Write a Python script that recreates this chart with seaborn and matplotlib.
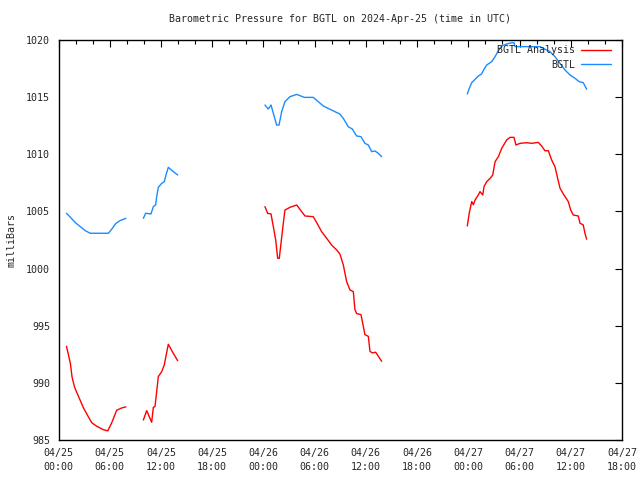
import matplotlib
matplotlib.use("Agg")
import matplotlib.pyplot as plt
import numpy as np
import pandas as pd
import seaborn as sns

# Daten: Stunden ab 04/25 00:00 UTC, Druck in mbar (4 Abschnitte mit Luecken)
analysis_hours = [
    [0.93, 1.12, 1.39, 1.59, 1.89, 2.35, 2.93, 3.52, 3.91, 4.49, 5.26, 5.77, 6.23, 6.81, 7.39, 7.89],
    [9.94, 10.33, 10.91, 11.11, 11.30, 11.50, 11.69, 12.09, 12.39, 12.86, 13.44, 13.96],
    [24.18, 24.50, 24.89, 25.16, 25.44, 25.67, 25.86, 26.06, 26.33, 26.52, 27.11, 27.90, 28.28,
     28.87, 29.84, 30.24, 30.82, 31.41, 31.99, 32.58, 32.96, 33.36, 33.75, 34.14, 34.53, 34.72,
     34.92, 35.43, 35.70, 35.89, 36.29, 36.48, 36.75, 37.15, 37.85],
    [47.88, 48.12, 48.40, 48.59, 48.79, 49.17, 49.37, 49.69, 49.84, 50.15, 50.55, 50.86, 51.13,
     51.52, 51.91, 52.49, 52.89, 53.35, 53.58, 54.06, 54.83, 55.42, 56.19, 56.59, 56.98, 57.37,
     57.76, 58.15, 58.42, 58.74, 59.20, 59.71, 59.99, 60.29, 60.88, 61.08, 61.46, 61.66, 61.86],
]
analysis_mb = [
    [993.2, 992.6, 991.7, 990.5, 989.6, 988.8, 987.8, 987.0, 986.5, 986.2, 985.9, 985.8, 986.5,
     987.6, 987.8, 987.9],
    [986.75, 987.57, 986.55, 987.87, 987.92, 989.23, 990.55, 990.98, 991.57, 993.38, 992.59, 991.94],
    [1005.42, 1004.83, 1004.78, 1003.67, 1002.5, 1000.9, 1000.9, 1002.21, 1003.96, 1005.12,
     1005.36, 1005.56, 1005.18, 1004.6, 1004.54, 1004.02, 1003.23, 1002.65, 1002.06, 1001.63,
     1001.28, 1000.31, 998.85, 998.13, 997.98, 996.41, 996.06, 995.97, 994.95, 994.22, 994.07,
     992.76, 992.62, 992.68, 991.89],
    [1003.73, 1004.9, 1005.86, 1005.58, 1006.0, 1006.44, 1006.73, 1006.44, 1007.17, 1007.6,
     1007.9, 1008.19, 1009.35, 1009.79, 1010.52, 1011.25, 1011.48, 1011.48, 1010.81, 1010.96,
     1011.01, 1010.96, 1011.04, 1010.72, 1010.31, 1010.31, 1009.5, 1008.91, 1008.04, 1007.03,
     1006.44, 1005.86, 1005.13, 1004.69, 1004.6, 1003.97, 1003.82, 1003.09, 1002.57],
]

obs_hours = [
    [0.93, 1.39, 1.97, 2.55, 3.13, 3.71, 5.84, 6.23, 6.73, 7.19, 7.89],
    [9.94, 10.21, 10.83, 11.11, 11.38, 11.50, 11.69, 12.09, 12.39, 12.59, 12.86, 13.44, 13.96],
    [24.18, 24.57, 24.89, 25.16, 25.55, 25.83, 26.14, 26.52, 27.11, 27.90, 28.78, 29.84, 30.43,
     31.02, 31.99, 32.96, 33.36, 33.94, 34.41, 34.92, 35.43, 35.89, 36.29, 36.68, 37.06, 37.46, 37.85],
    [47.88, 48.12, 48.40, 48.79, 49.17, 49.56, 49.84, 50.15, 50.73, 51.13, 51.52, 51.91, 52.49,
     53.08, 53.35, 53.47, 56.40, 56.98, 57.57, 58.15, 58.74, 59.33, 59.91, 60.49, 61.00, 61.46, 61.86],
]
obs_mb = [
    [1004.84, 1004.49, 1004.02, 1003.67, 1003.32, 1003.09, 1003.09, 1003.44, 1003.96, 1004.19, 1004.40],
    [1004.40, 1004.84, 1004.78, 1005.42, 1005.58, 1006.29, 1007.11, 1007.46, 1007.6, 1008.19,
     1008.86, 1008.48, 1008.19],
    [1014.31, 1013.96, 1014.31, 1013.59, 1012.56, 1012.56, 1013.73, 1014.6, 1015.04, 1015.24,
     1014.98, 1014.98, 1014.6, 1014.22, 1013.87, 1013.52, 1013.14, 1012.41, 1012.21, 1011.6,
     1011.54, 1010.96, 1010.81, 1010.23, 1010.29, 1010.08, 1009.79],
    [1015.28, 1015.78, 1016.27, 1016.56, 1016.85, 1017.03, 1017.44, 1017.81, 1018.1, 1018.54,
     1019.06, 1019.48, 1019.65, 1019.76, 1019.76, 1019.42, 1019.42, 1019.19, 1018.98, 1018.54,
     1017.96, 1017.37, 1016.94, 1016.65, 1016.35, 1016.27, 1015.69],
]

tick_hours = list(range(0, 67, 6))
tick_labels = ["04/25\n00:00", "04/25\n06:00", "04/25\n12:00", "04/25\n18:00",
               "04/26\n00:00", "04/26\n06:00", "04/26\n12:00", "04/26\n18:00",
               "04/27\n00:00", "04/27\n06:00", "04/27\n12:00", "04/27\n18:00"]

red = "#ff0000"
blue = "#1a8cff"

# Tabelle fuer seaborn
rows = []
for name, hrs, vals in [("BGTL Analysis", analysis_hours, analysis_mb), ("BGTL", obs_hours, obs_mb)]:
    for seg, (h, v) in enumerate(zip(hrs, vals)):
        for hh, vv in zip(h, v):
            rows.append({"hour": hh, "mb": vv, "series": name, "seg": seg})
df = pd.DataFrame(rows)

sns.set_style("white")
plt.rcParams["font.family"] = ["DejaVu Sans Mono"]
fs = 7.2

fig = plt.figure(figsize=(6.4, 4.8), dpi=100)
ax = fig.add_axes([58.5 / 640, 40 / 480, 563.5 / 640, 400 / 480])

sns.lineplot(data=df, x="hour", y="mb", hue="series", units="seg", estimator=None,
             palette={"BGTL Analysis": red, "BGTL": blue}, linewidth=1.0, ax=ax,
             legend=False, sort=False)

ax.set_xlim(0, 66)
ax.set_ylim(985, 1020)
ax.set_xticks(tick_hours)
ax.set_xticklabels(tick_labels, linespacing=1.4)
ax.set_xticks(np.arange(0, 67, 2), minor=True)
ax.set_yticks(np.arange(985, 1021, 5))
ax.tick_params(which="both", direction="in", top=True, right=True, labelsize=fs, color="black")
ax.tick_params(which="major", length=5, width=0.8)
ax.tick_params(which="minor", length=3, width=0.8)
ax.tick_params(axis="x", pad=6)
ax.tick_params(axis="y", pad=6)
for s in ax.spines.values():
    s.set_color("black")
    s.set_linewidth(1.0)

ax.set_xlabel("")
ax.set_ylabel("milliBars", fontsize=fs)
ax.yaxis.set_label_coords(-0.075, 0.5)
fig.text(340 / 640, 1 - 19 / 480, "Barometric Pressure for BGTL on 2024-Apr-25 (time in UTC)",
         fontsize=fs, ha="center", va="center")

handles = [plt.Line2D([], [], color=red, lw=1.0), plt.Line2D([], [], color=blue, lw=1.0)]
ax.legend(handles, ["BGTL Analysis", "BGTL"], loc="upper right", frameon=False,
          markerfirst=False, fontsize=fs, handlelength=3.0, borderaxespad=0, borderpad=0,
          labelspacing=0.45, handletextpad=0.6,
          bbox_to_anchor=(611 / 640, 1 - 45 / 480), bbox_transform=fig.transFigure)

fig.savefig("out.png", dpi=100)
